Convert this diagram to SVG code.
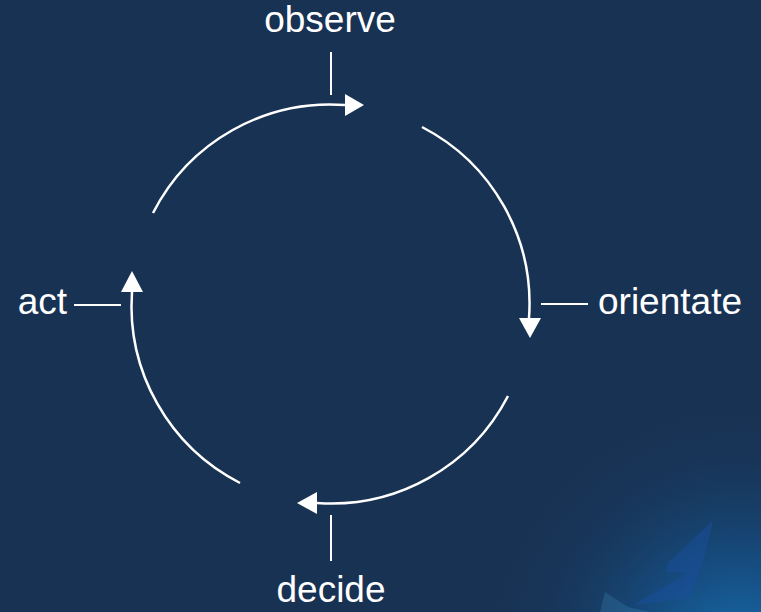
<svg xmlns="http://www.w3.org/2000/svg" width="761" height="612" viewBox="0 0 761 612">
<defs>
<radialGradient id="glow" cx="740" cy="660" r="260" gradientUnits="userSpaceOnUse">
<stop offset="0" stop-color="#1672b4"/>
<stop offset="0.4" stop-color="#15558f" stop-opacity="0.7"/>
<stop offset="1" stop-color="#183253" stop-opacity="0"/>
</radialGradient>
<style>
.arc{fill:none;stroke:#ffffff;stroke-width:2.5}
.tick{fill:none;stroke:#ffffff;stroke-width:2}
.head{fill:#ffffff}
.lbl{fill:#ffffff;font-family:"Liberation Sans",Arial,sans-serif;font-size:37px}
</style>
</defs>
<rect width="761" height="612" fill="#183253"/>
<rect width="761" height="612" fill="url(#glow)"/>
<g id="decor" opacity="0.45">
<polygon points="713,520 668,563 666,572 688,573 633,605 690,598 705,555" fill="#1a4fa0"/>
<polygon points="605,592 628,607 650,612 600,612" fill="#4a9ac8" opacity="0.5"/>
</g>
<g id="connectors">
<path class="arc" d="M153,213 A199,199 0 0 1 345,105"/>
<polygon class="head" points="364,105 345,94 345,116"/>
<path class="arc" d="M422,127 A199,199 0 0 1 529,318"/>
<polygon class="head" points="530,338 519,318 541,318"/>
<path class="arc" d="M508,396 A199,199 0 0 1 317,503"/>
<polygon class="head" points="297,503 317,492 317,514"/>
<path class="arc" d="M240,483 A199,199 0 0 1 132,292"/>
<polygon class="head" points="132,271 121,292 143,292"/>
<line class="tick" x1="331" y1="52" x2="331" y2="95"/>
<line class="tick" x1="541" y1="304" x2="588" y2="304"/>
<line class="tick" x1="331" y1="515" x2="331" y2="561"/>
<line class="tick" x1="74" y1="305" x2="121" y2="305"/>
</g>
<g id="observe"><text class="lbl" x="330" y="32" text-anchor="middle">observe</text></g>
<g id="orientate"><text class="lbl" x="598" y="314">orientate</text></g>
<g id="decide"><text class="lbl" x="331" y="602" text-anchor="middle">decide</text></g>
<g id="act"><text class="lbl" x="67" y="314" text-anchor="end">act</text></g>
</svg>
